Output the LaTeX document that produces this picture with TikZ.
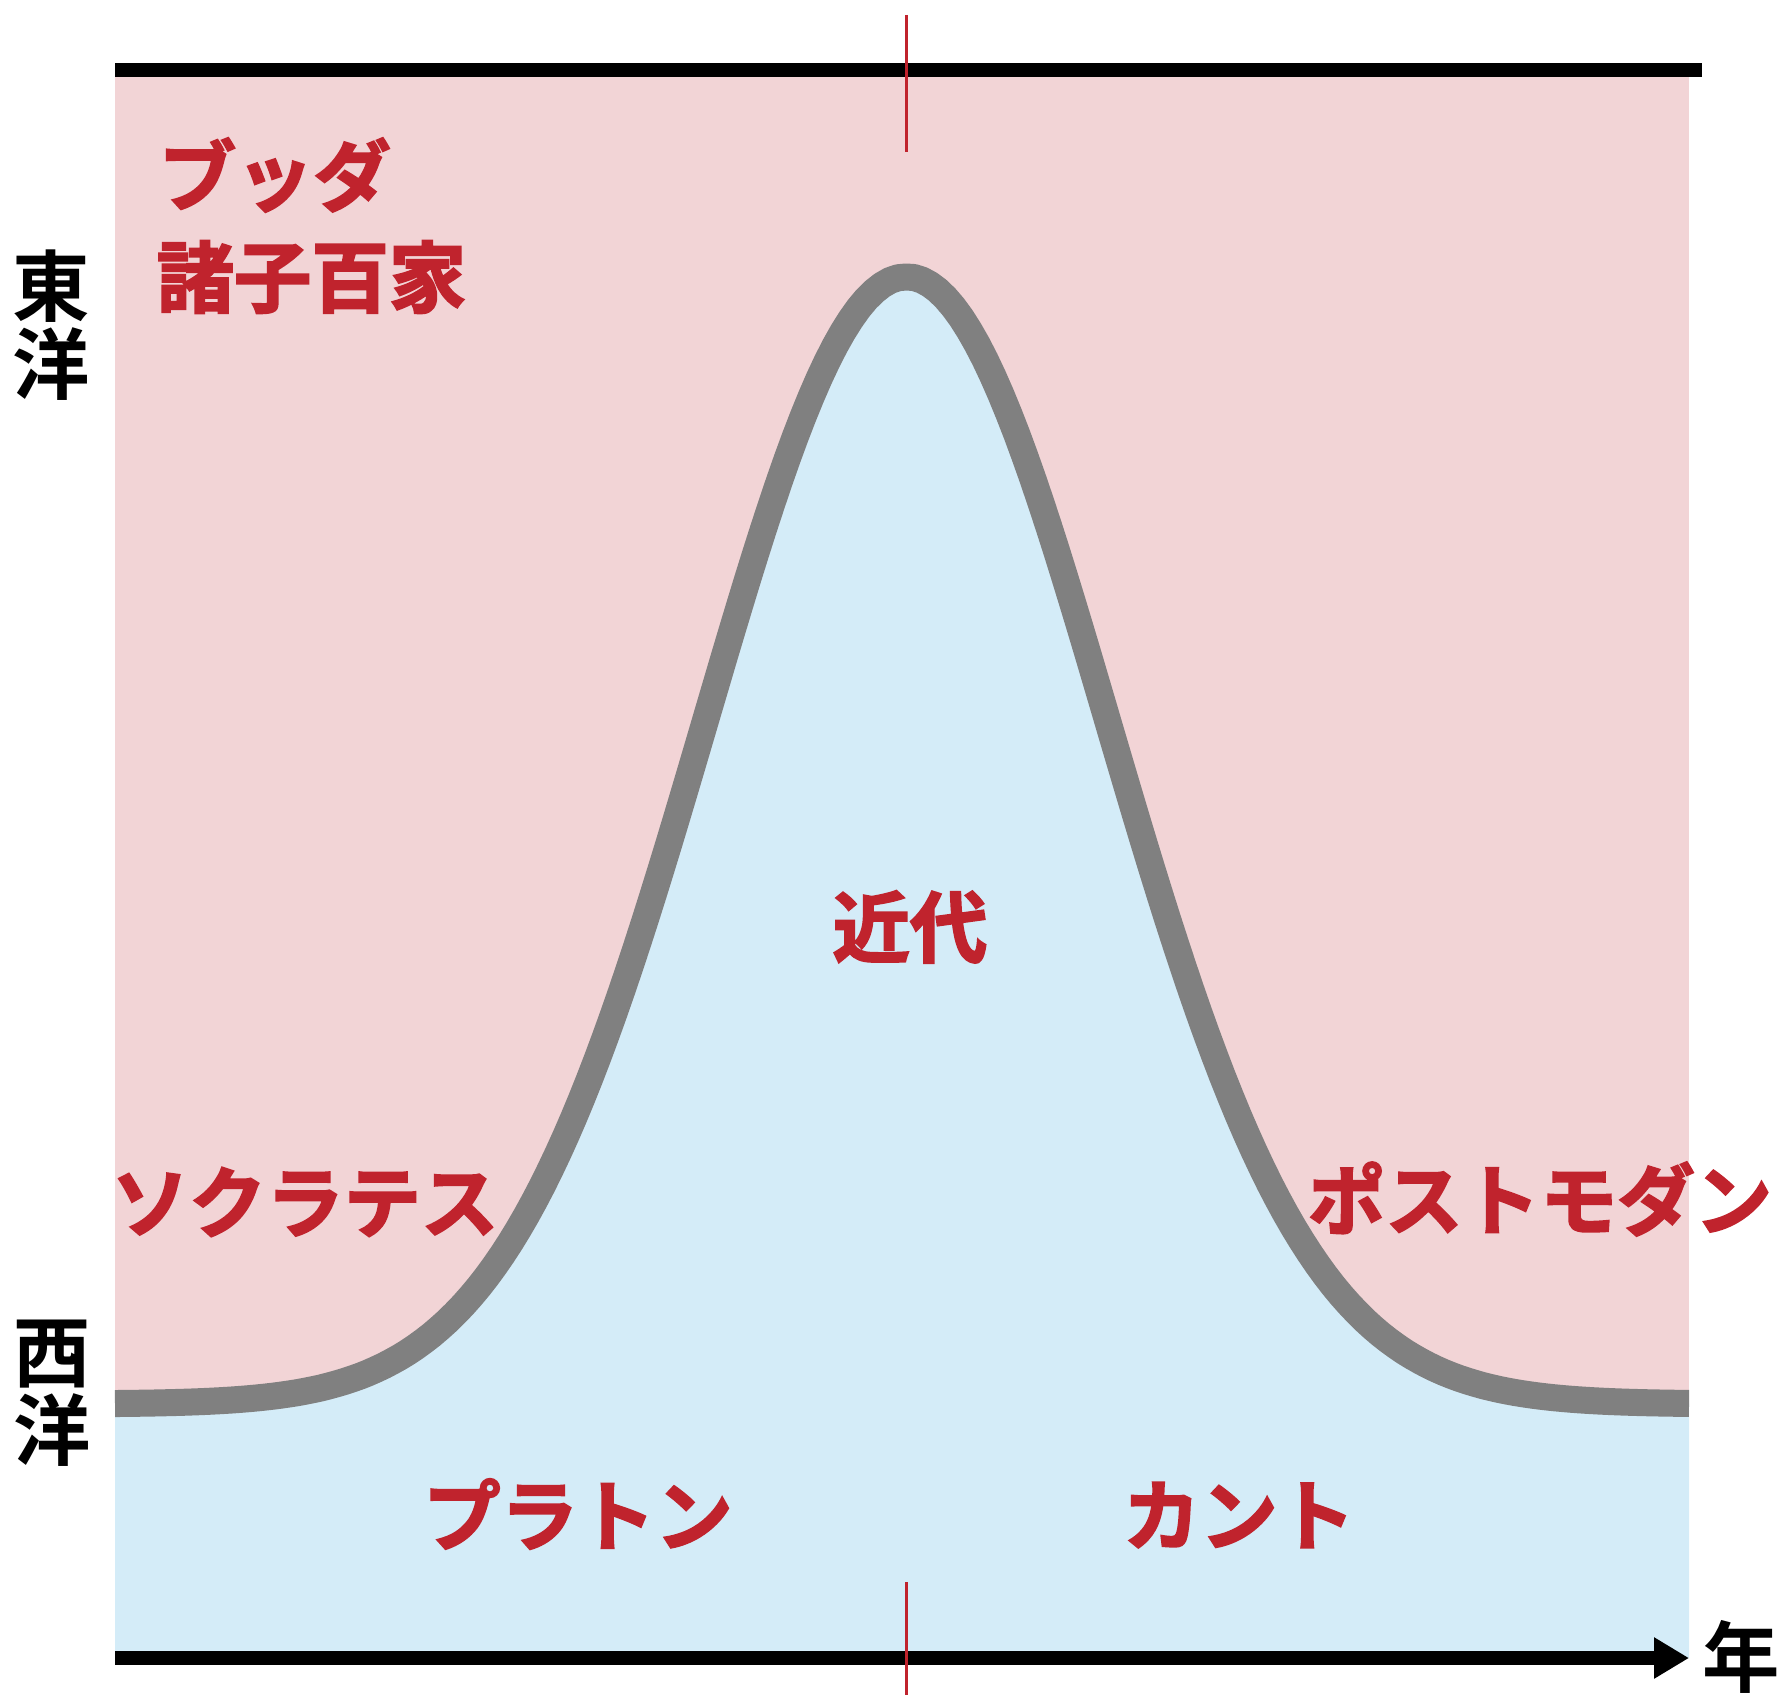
\documentclass[tikz,border=0pt]{standalone}
\usepackage{fontspec}
\usepackage{xcolor}
\usepackage{tikz}
\usetikzlibrary{arrows.meta,positioning}
\newfontfamily\jpb{Noto Sans CJK JP Bold}
\newfontfamily\jpheavy{Noto Sans CJK JP Bold}[FakeBold=2.5]
\definecolor{eastpink}{RGB}{242,212,214}
\definecolor{westblue}{RGB}{212,236,248}
\definecolor{erared}{RGB}{192,35,45}
\definecolor{curvegray}{RGB}{128,128,128}
\tikzset{
  era/.style={font=\jpheavy\fontsize{22}{22}\selectfont, text=erared, inner sep=0pt},
  side/.style={font=\jpb\fontsize{22}{22.2}\selectfont, align=center, inner sep=0pt},
  axisline/.style={line width=0.135cm, black},
  midtick/.style={line width=0.025cm, erared},
  border/.style={line width=0.27cm, curvegray, line join=round},
}
\begin{document}
\begin{tikzpicture}[x=0.01cm, y=-0.01cm]
  \useasboundingbox (0,0) rectangle (1780,1695);
  % two regions
  \fill[eastpink] (115,70) rectangle (1689,1404);
  \fill[westblue] (115,1658)
    -- plot[domain=115:1689, samples=200] (\x,{1404-1127*exp(-((\x-906.5)/201)^2/2)})
    -- (1689,1658) -- cycle;
  \draw[border] plot[domain=115:1689, samples=200] (\x,{1404-1127*exp(-((\x-906.5)/201)^2/2)});
  % axes
  \coordinate (topl) at (115,70);
  \coordinate (topr) at (1702,70);
  \coordinate (botl) at (115,1658);
  \coordinate (botr) at (1689,1658);
  \draw[axisline] (topl) -- (topr);
  \draw[axisline, -{Triangle[length=0.35cm, width=0.39cm]}] (botl) -- (botr);
  \coordinate (tick1a) at (906.5,15);
  \coordinate (tick1b) at (906.5,152);
  \coordinate (tick2a) at (906.5,1582);
  \coordinate (tick2b) at (906.5,1695);
  \draw[midtick] (tick1a) -- (tick1b);
  \draw[midtick] (tick2a) -- (tick2b);
  % labels
  \node[side] (east) at (51.5,325) {東\\洋};
  \node[side] (west) at (52,1393) {西\\洋};
  \node[side, anchor=west] (year) at (1702,1657) {年};
  \node[era, anchor=west] (buddha) at (158,175) {ブッダ};
  \node[era, anchor=west] (zhuzi) at (156,277) {諸子百家};
  \node[era] (socrates) at (305,1202) {ソクラテス};
  \node[era] (modern) at (910,927) {近代};
  \node[era] (postmod) at (1540,1199) {ポストモダン};
  \node[era] (plato) at (578,1514) {プラトン};
  \node[era] (kant) at (1239,1515) {カント};
\end{tikzpicture}
\end{document}
